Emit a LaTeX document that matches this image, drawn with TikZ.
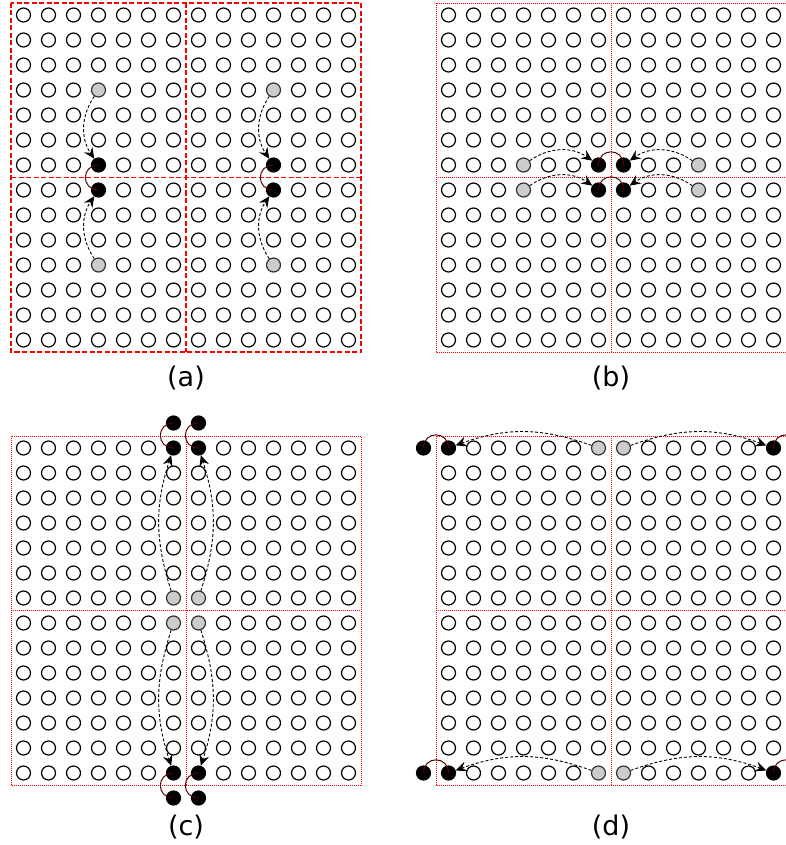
\documentclass[tikz,border=0pt]{standalone}
\usepackage{fontspec}
\setmainfont{DejaVu Sans}
\usetikzlibrary{arrows.meta}
\definecolor{darkred}{HTML}{5A0000}
\definecolor{bred}{HTML}{FF0000}
\begin{document}
\begin{tikzpicture}[x=1pt,y=1pt,
  cell/.style={circle,draw=black,line width=1.2pt,minimum size=14pt,inner sep=0pt,fill=white},
  blk/.style={fill=black},
  gry/.style={fill=black!20,draw=black!80},
  mv/.style={draw=black,line width=0.9pt,dash pattern=on 3pt off 2pt,-{Stealth[length=11pt,width=10pt,inset=4pt]}},
  lnk/.style={draw=darkred,line width=1pt},
  bnda/.style={draw=bred,line width=1.2pt,dash pattern=on 5pt off 2.5pt},
  bndd/.style={draw=bred,line width=0.8pt,dash pattern=on 1pt off 1pt},
  lab/.style={font=\fontsize{27}{30}\selectfont,inner sep=0pt},
  cs/a-3-3/.style={gry}, cs/a-3-10/.style={gry}, cs/a-10-3/.style={gry}, cs/a-10-10/.style={gry},
  cs/a-3-6/.style={blk}, cs/a-3-7/.style={blk}, cs/a-10-6/.style={blk}, cs/a-10-7/.style={blk},
  cs/b-3-6/.style={gry}, cs/b-3-7/.style={gry}, cs/b-10-6/.style={gry}, cs/b-10-7/.style={gry},
  cs/b-6-6/.style={blk}, cs/b-7-6/.style={blk}, cs/b-6-7/.style={blk}, cs/b-7-7/.style={blk},
  cs/c-6-6/.style={gry}, cs/c-7-6/.style={gry}, cs/c-6-7/.style={gry}, cs/c-7-7/.style={gry},
  cs/c-6-0/.style={blk}, cs/c-7-0/.style={blk}, cs/c-6-13/.style={blk}, cs/c-7-13/.style={blk},
  cs/d-6-0/.style={gry}, cs/d-7-0/.style={gry}, cs/d-6-13/.style={gry}, cs/d-7-13/.style={gry},
  cs/d-0-0/.style={blk}, cs/d-13-0/.style={blk}, cs/d-0-13/.style={blk}, cs/d-13-13/.style={blk}
]
\useasboundingbox (0,0) rectangle (785,-845);
\fill[white] (0,0) rectangle (785,-845);

% boundaries
\draw[bnda] (11,-3) rectangle (361,-352);
\draw[bnda] (186,-3) -- (186,-352);
\draw[bnda] (11,-177.5) -- (361,-177.5);
\foreach \ox/\oy in {425/0,0/433,425/433}{
  \draw[bndd] (\ox+11,-\oy-3) rectangle (\ox+361,-\oy-352);
  \draw[bndd] (\ox+186,-\oy-3) -- (\ox+186,-\oy-352);
  \draw[bndd] (\ox+11,-\oy-177.5) -- (\ox+361,-\oy-177.5);
}

% grids
\foreach \p/\ox/\oy in {a/0/0,b/425/0,c/0/433,d/425/433}{
  \foreach \c in {0,...,13}{
    \foreach \r in {0,...,13}{
      \node[cell,cs/\p-\c-\r/.try] (\p-\c-\r) at ({\ox+23.5+25*\c},{-(\oy+15+25*\r)}) {};
    }
  }
}

% extra particles outside the grids
\node[cell,blk] (cT6) at (173.5,-423) {};
\node[cell,blk] (cT7) at (198.5,-423) {};
\node[cell,blk] (cB6) at (173.5,-798) {};
\node[cell,blk] (cB7) at (198.5,-798) {};
\node[cell,blk] (dL0) at (423.5,-448) {};
\node[cell,blk] (dR0) at (798.5,-448) {};
\node[cell,blk] (dL13) at (423.5,-773) {};
\node[cell,blk] (dR13) at (798.5,-773) {};

% (a)
\draw[mv] (a-3-3) to[bend right=34] (a-3-6);
\draw[mv] (a-3-10) to[bend left=34] (a-3-7);
\draw[mv] (a-10-3) to[bend right=34] (a-10-6);
\draw[mv] (a-10-10) to[bend left=34] (a-10-7);
\draw[lnk] (a-3-6.center) to[out=180,in=180,looseness=1.8] (a-3-7.center);
\draw[lnk] (a-10-6.center) to[out=180,in=180,looseness=1.8] (a-10-7.center);

% (b)
\draw[mv] (b-3-6) to[bend left=35] (b-6-6);
\draw[mv] (b-10-6) to[bend right=35] (b-7-6);
\draw[mv] (b-3-7) to[bend left=35] (b-6-7);
\draw[mv] (b-10-7) to[bend right=35] (b-7-7);
\draw[lnk] (b-6-6.center) to[out=90,in=90,looseness=1.8] (b-7-6.center);
\draw[lnk] (b-6-7.center) to[out=90,in=90,looseness=1.8] (b-7-7.center);

% (c)
\draw[mv] (c-6-6) to[bend left=18] (c-6-0);
\draw[mv] (c-7-6) to[bend right=18] (c-7-0);
\draw[mv] (c-6-7) to[bend right=18] (c-6-13);
\draw[mv] (c-7-7) to[bend left=18] (c-7-13);
\draw[lnk] (cT6.center) to[out=180,in=180,looseness=1.8] (c-6-0.center);
\draw[lnk] (cT7.center) to[out=180,in=180,looseness=1.8] (c-7-0.center);
\draw[lnk] (c-6-13.center) to[out=180,in=180,looseness=1.8] (cB6.center);
\draw[lnk] (c-7-13.center) to[out=180,in=180,looseness=1.8] (cB7.center);

% (d)
\draw[mv] (d-6-0) to[bend right=20] (d-0-0);
\draw[mv] (d-7-0) to[bend left=20] (d-13-0);
\draw[mv] (d-6-13) to[bend right=20] (d-0-13);
\draw[mv] (d-7-13) to[bend left=20] (d-13-13);
\draw[lnk] (dL0.center) to[out=90,in=90,looseness=1.8] (d-0-0.center);
\draw[lnk] (d-13-0.center) to[out=90,in=90,looseness=1.8] (dR0.center);
\draw[lnk] (dL13.center) to[out=90,in=90,looseness=1.8] (d-0-13.center);
\draw[lnk] (d-13-13.center) to[out=90,in=90,looseness=1.8] (dR13.center);

% labels
\node[lab] (la) at (186,-378) {(a)};
\node[lab] (lb) at (611,-378) {(b)};
\node[lab] (lc) at (186,-827) {(c)};
\node[lab] (ld) at (611,-827) {(d)};
\end{tikzpicture}
\end{document}
